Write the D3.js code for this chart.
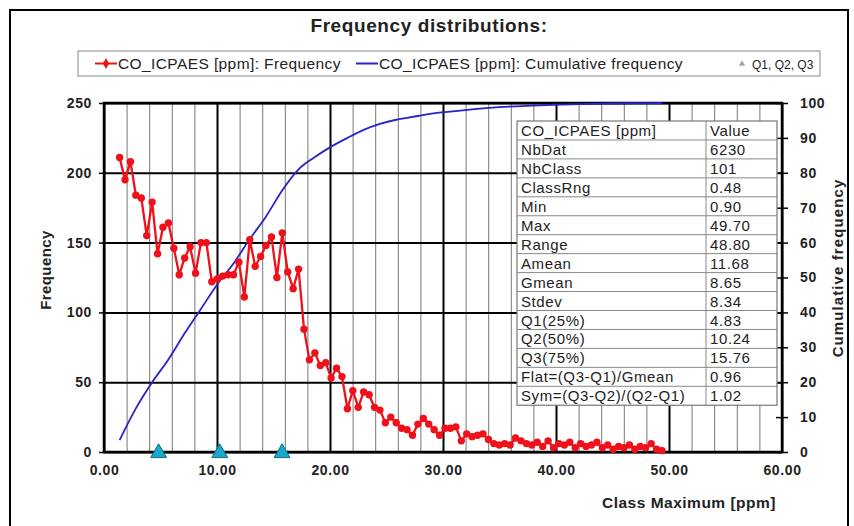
<!DOCTYPE html>
<html>
<head>
<meta charset="utf-8">
<title>Frequency distributions</title>
<script src="https://d3js.org/d3.v7.min.js"></script>
<style>
  body { margin: 0; background: #fff; }
  text { font-family: "Liberation Sans", Arial, sans-serif; fill: #222; }
  .tick text { font-size: 14px; font-weight: bold; letter-spacing: 0.6px; }
  .grid .domain { display: none; }
</style>
</head>
<body>
<svg width="854" height="526"></svg>
<script>
// class maxima (ppm), 101 classes
var classMax = [
  1.38, 1.86, 2.34, 2.82, 3.30, 3.78, 4.26, 4.74, 5.22, 5.70,
  6.18, 6.66, 7.14, 7.62, 8.10, 8.58, 9.06, 9.54, 10.02, 10.50,
  10.98, 11.46, 11.94, 12.42, 12.90, 13.38, 13.86, 14.34, 14.82, 15.30,
  15.78, 16.26, 16.74, 17.22, 17.70, 18.18, 18.66, 19.14, 19.62, 20.10,
  20.58, 21.06, 21.54, 22.02, 22.50, 22.98, 23.46, 23.94, 24.42, 24.90,
  25.38, 25.86, 26.34, 26.82, 27.30, 27.78, 28.26, 28.74, 29.22, 29.70,
  30.18, 30.66, 31.14, 31.62, 32.10, 32.58, 33.06, 33.54, 34.02, 34.50,
  34.98, 35.46, 35.94, 36.42, 36.90, 37.38, 37.86, 38.34, 38.82, 39.30,
  39.78, 40.26, 40.74, 41.22, 41.70, 42.18, 42.66, 43.14, 43.62, 44.10,
  44.58, 45.06, 45.54, 46.02, 46.50, 46.98, 47.46, 47.94, 48.42, 48.90,
  49.38
];
var frequency = [
  211, 195, 208, 184, 182, 155, 179, 142, 161, 164,
  146, 127, 139, 147, 128, 150, 150, 122, 124, 126,
  127, 127, 136, 111, 152, 133, 140, 148, 154, 125,
  157, 129, 117, 131, 88, 66, 71, 62, 64, 53,
  60, 54, 31, 44, 32, 43, 41, 32, 30, 21,
  25, 21, 17, 16, 12, 20, 24, 20, 16, 12,
  17, 17, 18, 8, 13, 11, 12, 13, 9, 6,
  5, 6, 5, 10, 8, 6, 5, 7, 4, 8,
  3, 6, 5, 7, 3, 6, 4, 5, 7, 3,
  5, 2, 4, 3, 5, 2, 4, 3, 6, 2,
  1
];
// cumulative frequency (%) read at selected class maxima
var cumX = [1.38, 2.82, 4.26, 5.70, 7.14, 8.58, 10.02, 11.46, 12.90, 14.34,
  15.78, 17.22, 18.66, 20.10, 21.54, 22.98, 24.42, 25.86, 27.30, 28.74,
  30.18, 32.58, 34.98, 37.38, 39.78, 42.18, 44.58, 46.98, 49.38];
var cumY = [3.4, 12.5, 20, 26.5, 34, 41, 48, 54, 61, 67.5,
  75, 81, 84.5, 87.5, 90, 92.3, 94, 95.2, 96, 96.8,
  97.4, 98.2, 98.8, 99.2, 99.5, 99.7, 99.85, 99.95, 100];
var quartiles = [4.83, 10.24, 15.76];

var statNames = ["NbDat", "NbClass", "ClassRng", "Min", "Max", "Range", "Amean", "Gmean",
  "Stdev", "Q1(25%)", "Q2(50%)", "Q3(75%)", "Flat=(Q3-Q1)/Gmean", "Sym=(Q3-Q2)/(Q2-Q1)"];
var statValues = ["6230", "101", "0.48", "0.90", "49.70", "48.80", "11.68", "8.65",
  "8.34", "4.83", "10.24", "15.76", "0.96", "1.02"];

var xTicks = [0, 10, 20, 30, 40, 50, 60];
var xMinor = [2, 4, 6, 8, 12, 14, 16, 18, 22, 24, 26, 28, 32, 34, 36, 38, 42, 44, 46, 48, 52, 54, 56, 58];
var yLeftTicks = [0, 50, 100, 150, 200, 250];
var yRightTicks = [0, 10, 20, 30, 40, 50, 60, 70, 80, 90, 100];

var svg = d3.select("svg");
var pL = 104, pR = 782, pT = 103, pB = 452;

var x = d3.scaleLinear().domain([0, 60]).range([pL, pR]);
var yL = d3.scaleLinear().domain([0, 250]).range([pB, pT]);
var yR = d3.scaleLinear().domain([0, 100]).range([pB, pT]);

// outer frame
svg.append("rect").attr("x", 10).attr("y", 10).attr("width", 838).attr("height", 530)
  .attr("fill", "none").attr("stroke", "#000").attr("stroke-width", 2);

svg.append("text").attr("x", 429).attr("y", 32).attr("text-anchor", "middle")
  .style("font-size", "19px").style("font-weight", "bold").style("letter-spacing", "0.6px")
  .text("Frequency distributions:");

// legend
var lg = svg.append("g").style("font-size", "15.5px").style("letter-spacing", "0.4px");
lg.append("rect").attr("x", 78).attr("y", 51).attr("width", 742).attr("height", 25)
  .attr("fill", "#fff").attr("stroke", "#888").attr("stroke-width", 1);
lg.append("line").attr("x1", 95).attr("x2", 117).attr("y1", 63.5).attr("y2", 63.5)
  .attr("stroke", "#e8141b").attr("stroke-width", 2);
lg.append("path").attr("d", d3.symbol(d3.symbolDiamond, 34)()).attr("transform", "translate(106,63.5)")
  .attr("fill", "#e8141b");
lg.append("text").attr("x", 118).attr("y", 69).text("CO_ICPAES [ppm]: Frequency");
lg.append("line").attr("x1", 356).attr("x2", 378).attr("y1", 63.5).attr("y2", 63.5)
  .attr("stroke", "#2b22c8").attr("stroke-width", 2);
lg.append("text").attr("x", 379).attr("y", 69).text("CO_ICPAES [ppm]: Cumulative frequency");
lg.append("path").attr("d", d3.symbol(d3.symbolTriangle, 18)()).attr("transform", "translate(742,64)")
  .attr("fill", "#9aa");
lg.append("text").attr("x", 752).attr("y", 68.5).style("font-size", "12px").style("letter-spacing", "0px")
  .text("Q1, Q2, Q3");

// minor vertical grid
svg.append("g").attr("class", "grid").attr("transform", "translate(0," + pB + ")")
  .call(d3.axisBottom(x).tickValues(xMinor).tickSize(-(pB - pT)).tickFormat(""))
  .selectAll("line").attr("stroke", "#777").attr("stroke-width", 1);
// major vertical grid
svg.append("g").attr("class", "grid").attr("transform", "translate(0," + pB + ")")
  .call(d3.axisBottom(x).tickValues(xTicks).tickSize(-(pB - pT)).tickFormat(""))
  .selectAll("line").attr("stroke", "#000").attr("stroke-width", 2);
// horizontal grid
svg.append("g").attr("class", "grid").attr("transform", "translate(" + pL + ",0)")
  .call(d3.axisLeft(yL).tickValues(yLeftTicks).tickSize(-(pR - pL)).tickFormat(""))
  .selectAll("line").attr("stroke", "#000").attr("stroke-width", 2);

// axes
var axL = svg.append("g").attr("transform", "translate(" + pL + ",0)")
  .call(d3.axisLeft(yL).tickValues(yLeftTicks).tickSize(5).tickPadding(7));
var axR = svg.append("g").attr("transform", "translate(" + pR + ",0)")
  .call(d3.axisRight(yR).tickValues(yRightTicks).tickSize(6).tickPadding(12));
axR.selectAll(".tick line").attr("x1", -6);
var axB = svg.append("g").attr("transform", "translate(0," + pB + ")")
  .call(d3.axisBottom(x).tickValues(xTicks).tickSize(0).tickPadding(13).tickFormat(d3.format(".2f")));
[axL, axR, axB].forEach(function(a) {
  a.select(".domain").remove();
  a.selectAll(".tick line").attr("stroke", "#000").attr("stroke-width", 1.5);
  a.selectAll(".tick text").attr("fill", "#222");
});

svg.append("rect").attr("x", pL).attr("y", pT).attr("width", pR - pL).attr("height", pB - pT)
  .attr("fill", "none").attr("stroke", "#000").attr("stroke-width", 2.5);

// axis titles
svg.append("text").attr("transform", "translate(51,270) rotate(-90)").attr("text-anchor", "middle")
  .style("font-size", "15px").style("font-weight", "bold").style("letter-spacing", "0.4px").text("Frequency");
svg.append("text").attr("transform", "translate(843,268) rotate(-90)").attr("text-anchor", "middle")
  .style("font-size", "15px").style("font-weight", "bold").style("letter-spacing", "1.1px").text("Cumulative frequency");
svg.append("text").attr("x", 689).attr("y", 508).attr("text-anchor", "middle")
  .style("font-size", "15.5px").style("font-weight", "bold").style("letter-spacing", "0.5px").text("Class Maximum [ppm]");

// cumulative line
var cumLine = d3.line().x(function(d, i) { return x(cumX[i]); }).y(function(d) { return yR(d); })
  .curve(d3.curveMonotoneX);
svg.append("path").attr("d", cumLine(cumY)).attr("fill", "none")
  .attr("stroke", "#2b22c8").attr("stroke-width", 1.8);

// frequency line + markers
var freqLine = d3.line().x(function(d, i) { return x(classMax[i]); }).y(function(d) { return yL(d); });
svg.append("path").attr("d", freqLine(frequency)).attr("fill", "none")
  .attr("stroke", "#f0101a").attr("stroke-width", 2.3);
svg.selectAll("circle.f").data(frequency).enter().append("circle").attr("class", "f")
  .attr("cx", function(d, i) { return x(classMax[i]); })
  .attr("cy", function(d) { return yL(d); })
  .attr("r", 3.7).attr("fill", "#f0101a");

// quartile triangles
svg.selectAll("path.q").data(quartiles).enter().append("path").attr("class", "q")
  .attr("d", d3.symbol(d3.symbolTriangle, 110)())
  .attr("transform", function(d) { return "translate(" + x(d) + "," + (pB + 1) + ")"; })
  .attr("fill", "#1ba6cc").attr("stroke", "#0b6f8a").attr("stroke-width", 1);

// statistics table
var tX = 517, tW = 260, tSplit = 706, tY = 121, rowH = 18.95;
var rows = [["CO_ICPAES [ppm]", "Value"]].concat(statNames.map(function(n, i) { return [n, statValues[i]]; }));
var tbl = svg.append("g").style("font-size", "15px").style("letter-spacing", "0.6px");
tbl.append("rect").attr("x", tX).attr("y", tY).attr("width", tW).attr("height", rowH * rows.length)
  .attr("fill", "#fff").attr("stroke", "#777").attr("stroke-width", 1.2);
tbl.selectAll("line.r").data(d3.range(1, rows.length)).enter().append("line").attr("class", "r")
  .attr("x1", tX).attr("x2", tX + tW)
  .attr("y1", function(d) { return tY + d * rowH; }).attr("y2", function(d) { return tY + d * rowH; })
  .attr("stroke", "#888").attr("stroke-width", 1);
tbl.append("line").attr("x1", tSplit).attr("x2", tSplit).attr("y1", tY).attr("y2", tY + rowH * rows.length)
  .attr("stroke", "#888").attr("stroke-width", 1);
var rg = tbl.selectAll("g.row").data(rows).enter().append("g").attr("class", "row")
  .attr("transform", function(d, i) { return "translate(0," + (tY + i * rowH + 15) + ")"; });
rg.append("text").attr("x", tX + 4).attr("fill", "#333").text(function(d) { return d[0]; });
rg.append("text").attr("x", tSplit + 4).attr("fill", "#333").text(function(d) { return d[1]; });
</script>
</body>
</html>
